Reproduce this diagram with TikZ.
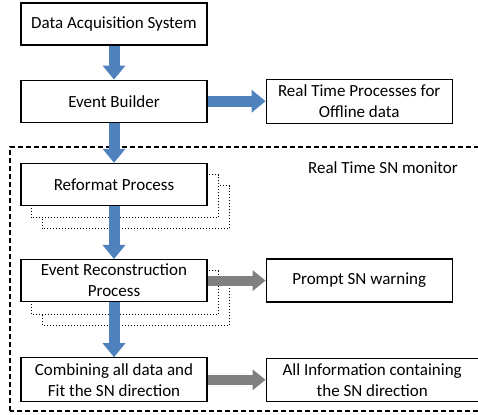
\documentclass[tikz,border=0pt]{standalone}
\usepackage{fontspec}
\setmainfont{Carlito}
\usepackage{xcolor}
\usetikzlibrary{arrows.meta,positioning,backgrounds}

\definecolor{flowblue}{HTML}{4F81BD}
\definecolor{flowgray}{HTML}{808080}

\begin{document}
\begin{tikzpicture}[
      x=1pt, y=1pt,
      font=\fontsize{17}{21}\selectfont,
      box/.style={draw, line width=1.2pt, fill=white, align=center, minimum width=186pt,
                  minimum height=42pt, inner sep=1pt},
      ghost/.style={draw, dotted, line width=1pt, fill=white},
      barr/.style={line width=11pt, draw=flowblue, -{Triangle[width=22pt,length=14pt]}},
      garr/.style={line width=10pt, draw=flowgray, -{Triangle[width=20pt,length=13pt]}}
    ]
    \useasboundingbox (0,0) rectangle (478,414);
    % main chain
    \node[box] (das)  at (114,390) {Data Acquisition System};
    \node[box] (eb)   [below=34pt of das] {Event Builder};
    \node[box] (refp) [below=40pt of eb] {Reformat Process};
    \node[box] (erp)  [below=53pt of refp] {Event Reconstruction\\Process};
    \node[box, minimum height=44pt] (comb) [below=55pt of erp] {Combining all data and\\Fit the SN direction};
    % outputs
    \node[box, minimum height=44pt] (rtp) [right=58pt of eb] {Real Time Processes for\\Offline data};
    \node[box, minimum height=43pt] (psn) [right=58pt of erp] {Prompt SN warning};
    \node[box, minimum width=212pt, minimum height=43pt] (allinfo) [right=58pt of comb] {All Information containing\\the SN direction};
    \node (mon) at (383,246) {Real Time SN monitor};
    % arrows
    \draw[barr] (das.south) -- (eb.north);
    \draw[barr] (eb.east) -- (rtp.west);
    \draw[barr] (eb.south) -- (refp.north);
    \draw[barr] (refp.south) -- (erp.north);
    \draw[barr] (erp.south) -- (comb.north);
    \draw[garr] (erp.east) -- (erp.east -| psn.west);
    \draw[garr] (comb.east) -- (allinfo.west);
    \begin{scope}[on background layer]
      % SN monitor frame
      \draw[dashed, dash pattern=on 5pt off 3pt, line width=1.2pt] (10,3) rectangle (484,267);
      % stacked copies behind the processes
      \foreach \p in {refp,erp} {
        \draw[ghost] ([shift={(22pt,-23pt)}]\p.north west) rectangle ([shift={(22pt,-23pt)}]\p.south east);
        \draw[ghost] ([shift={(11pt,-12pt)}]\p.north west) rectangle ([shift={(11pt,-12pt)}]\p.south east);
      }
    \end{scope}
  \end{tikzpicture}
\end{document}
